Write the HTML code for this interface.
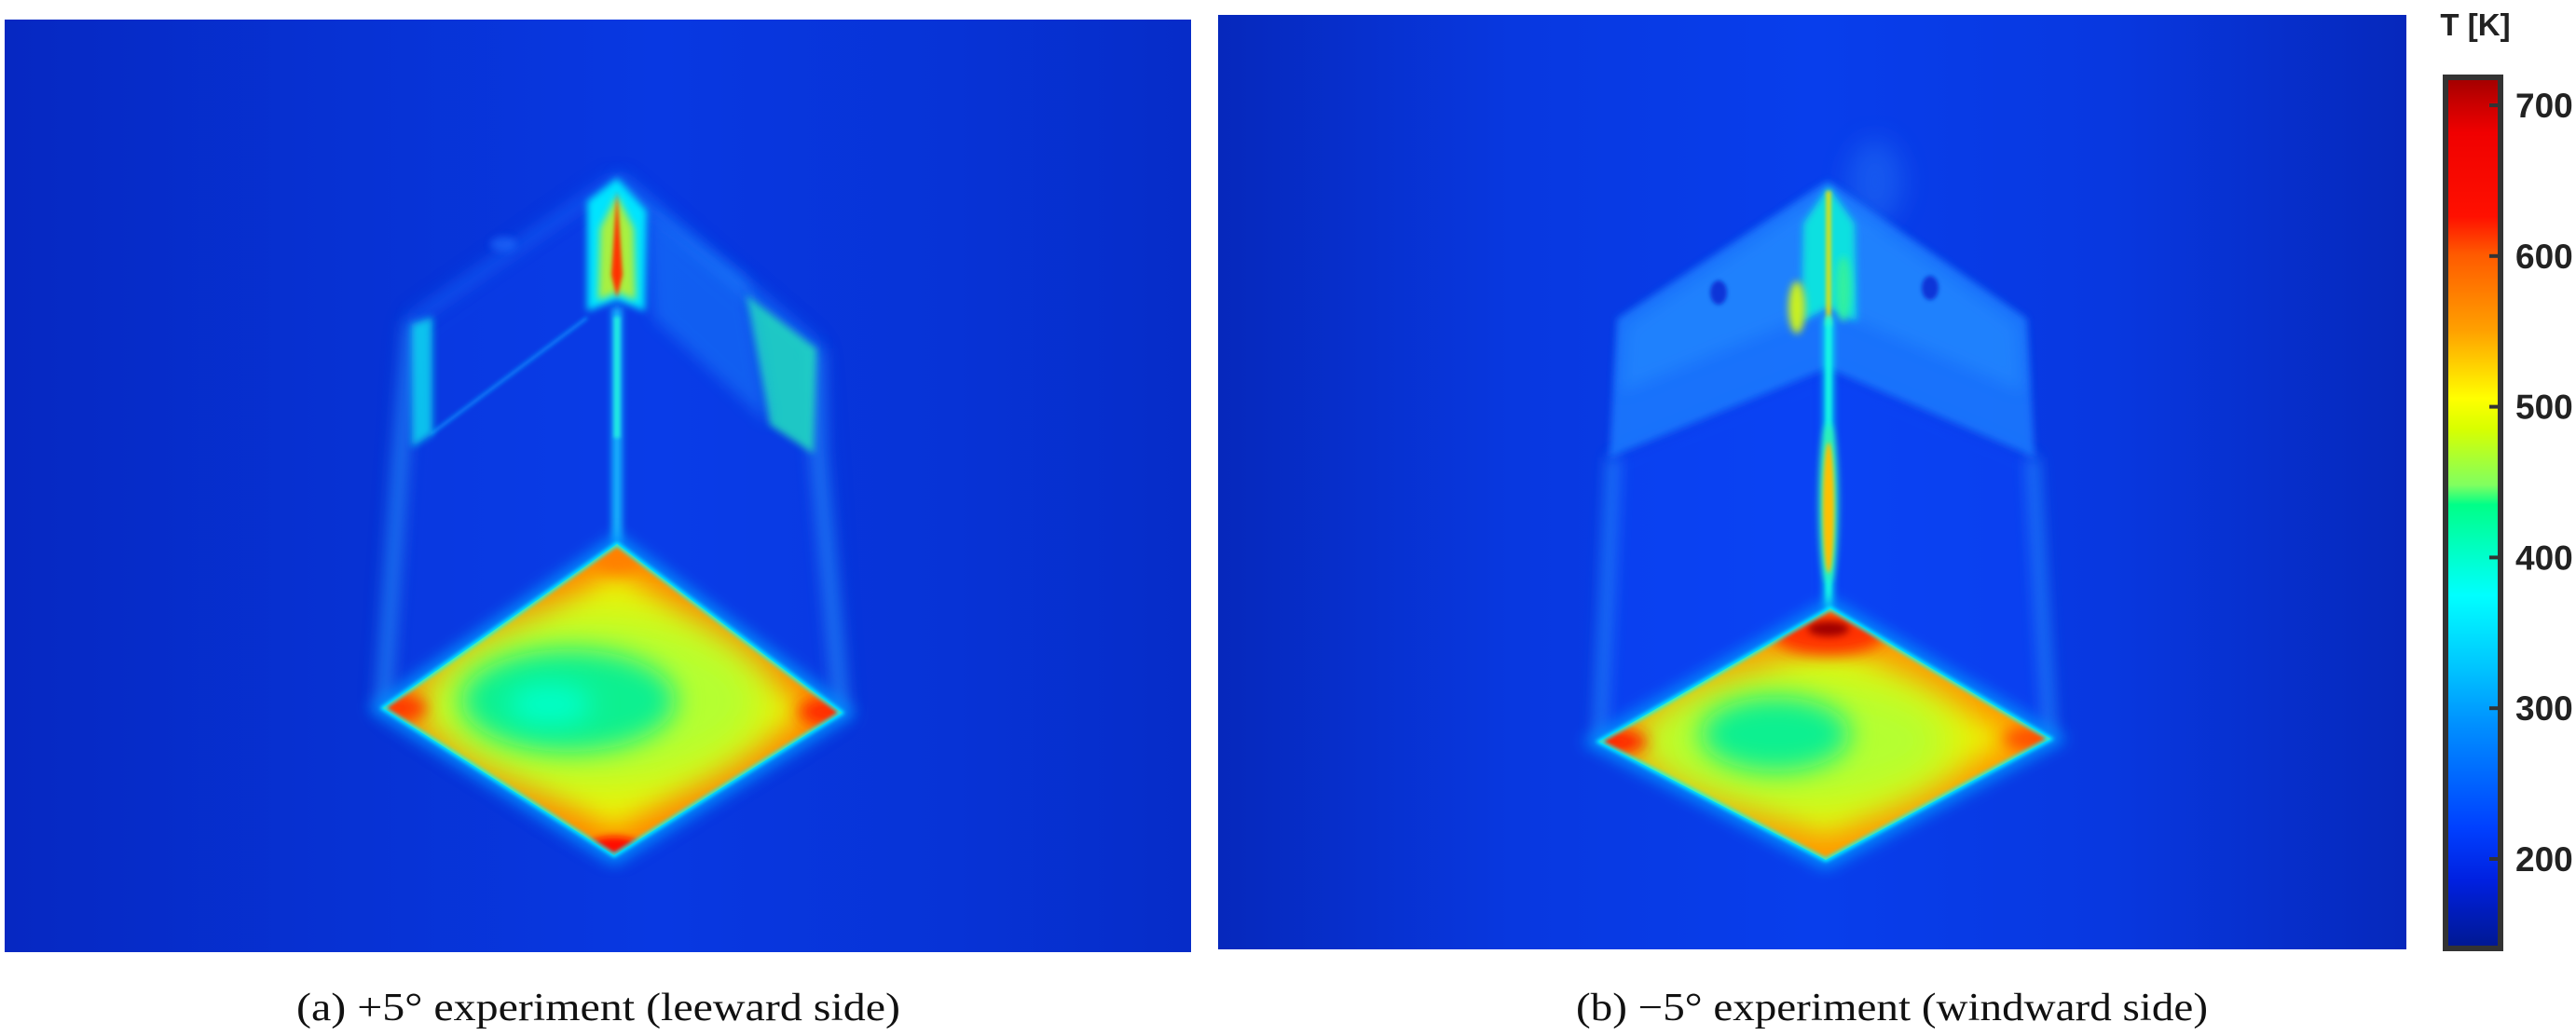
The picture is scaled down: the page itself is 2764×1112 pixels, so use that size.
<!DOCTYPE html>
<html><head><meta charset="utf-8"><title>IR thermography</title>
<style>html,body{margin:0;padding:0;background:#fff}svg{display:block}</style></head>
<body>
<svg id="fig" width="2764" height="1112" viewBox="0 0 2764 1112" xmlns="http://www.w3.org/2000/svg">
<defs>
<filter id="b2" filterUnits="userSpaceOnUse" x="0" y="0" width="2764" height="1112"><feGaussianBlur stdDeviation="2"/></filter>
<filter id="b4" filterUnits="userSpaceOnUse" x="0" y="0" width="2764" height="1112"><feGaussianBlur stdDeviation="4"/></filter>
<filter id="b8" filterUnits="userSpaceOnUse" x="0" y="0" width="2764" height="1112"><feGaussianBlur stdDeviation="8"/></filter>
<filter id="b14" filterUnits="userSpaceOnUse" x="0" y="0" width="2764" height="1112"><feGaussianBlur stdDeviation="14"/></filter>
<filter id="b25" filterUnits="userSpaceOnUse" x="0" y="0" width="2764" height="1112"><feGaussianBlur stdDeviation="25"/></filter>
<linearGradient id="bgL" x1="0" x2="1" y1="0" y2="0">
<stop offset="0" stop-color="#0628c2"/><stop offset="0.3" stop-color="#0732d4"/><stop offset="0.55" stop-color="#0838e2"/><stop offset="0.8" stop-color="#0733d6"/><stop offset="1" stop-color="#062cc8"/></linearGradient>
<linearGradient id="bgR" x1="0" x2="1" y1="0" y2="0">
<stop offset="0" stop-color="#0628bc"/><stop offset="0.25" stop-color="#0838e0"/><stop offset="0.5" stop-color="#083eec"/><stop offset="0.75" stop-color="#0838e0"/><stop offset="1" stop-color="#0628bc"/></linearGradient>
<clipPath id="clipL"><rect x="5" y="21" width="1273" height="1001"/></clipPath>
<clipPath id="clipR"><rect x="1307" y="16" width="1275" height="1003"/></clipPath>
<clipPath id="dL"><polygon points="411,760 662,584 903,765 659,918"/></clipPath>
<clipPath id="dR"><polygon points="1716,796 1964,653 2200,793 1959,923"/></clipPath>
<linearGradient id="cbGrad" x1="0" x2="0" y1="0" y2="1"></linearGradient>
</defs>

<!-- Left panel -->
<g id="panel-a" clip-path="url(#clipL)">
<rect x="5" y="21" width="1273" height="1001" fill="url(#bgL)"/>
<polygon points="440,345 662,191 876,374 903,765 659,918 411,760" fill="#0a44f4" opacity="0.35" filter="url(#b14)"/>
<polyline points="442,345 430,490 411,760" fill="none" stroke="#2a9cff" stroke-width="16" opacity="0.6" filter="url(#b8)"/>
<polyline points="876,374 878,487 903,765" fill="none" stroke="#2a9cff" stroke-width="16" opacity="0.6" filter="url(#b8)"/>
<line x1="662" y1="191" x2="440" y2="345" stroke="#1a70ff" stroke-width="10" opacity="0.6" filter="url(#b8)"/>
<line x1="662" y1="191" x2="876" y2="374" stroke="#1a80ff" stroke-width="12" opacity="0.7" filter="url(#b8)"/>
<ellipse cx="540" cy="262" rx="14" ry="8" fill="#2070ff" opacity="0.6" filter="url(#b4)"/>
<line x1="662" y1="330" x2="662" y2="584" stroke="#18c0ff" stroke-width="10" filter="url(#b4)"/>
<line x1="662" y1="340" x2="662" y2="470" stroke="#20f0e0" stroke-width="6" filter="url(#b2)"/>
<line x1="630" y1="341" x2="462" y2="466" stroke="#1090ff" stroke-width="3" filter="url(#b2)"/>
<polygon points="442,348 464,340 464,466 442,480" fill="#10d8f0" opacity="0.85" filter="url(#b4)"/>
<polygon points="800,316 876,374 873,487 826,456" fill="#20e0c0" opacity="0.85" filter="url(#b4)"/>
<polygon points="694,226 800,300 826,456 700,340" fill="#1a8aff" opacity="0.45" filter="url(#b8)"/>
<polygon points="662,191 630,216 630,334 662,322 692,334 694,226" fill="#00e4ff" filter="url(#b4)"/>
<polygon points="662,210 644,245 642,322 662,314 682,322 680,245" fill="#a8f040" filter="url(#b4)"/>
<polygon points="662,205 656,295 662,320 668,295" fill="#ff3000" filter="url(#b2)"/>
<polygon points="411,760 662,584 903,765 659,918" fill="none" stroke="#0090ff" stroke-width="18" filter="url(#b8)"/>
<g clip-path="url(#dL)">
<rect x="400" y="570" width="520" height="360" fill="#ff8a00"/>
<polygon points="448,760 662,612 866,764 659,890" fill="#f2f000" filter="url(#b14)"/>
<ellipse cx="640" cy="752" rx="185" ry="95" fill="#b4ff30" filter="url(#b25)"/>
<ellipse cx="610" cy="752" rx="115" ry="55" fill="#10f090" filter="url(#b14)"/>
<ellipse cx="590" cy="756" rx="45" ry="22" fill="#00ffc8" filter="url(#b14)"/>
<ellipse cx="659" cy="912" rx="32" ry="14" fill="#ff1000" filter="url(#b4)"/>
<ellipse cx="420" cy="760" rx="38" ry="16" fill="#ff3a00" filter="url(#b8)"/>
<ellipse cx="895" cy="764" rx="38" ry="16" fill="#ff2a00" filter="url(#b8)"/>
<ellipse cx="663" cy="600" rx="28" ry="16" fill="#ff8000" filter="url(#b8)"/>
</g>
<polygon points="411,760 662,584 903,765 659,918" fill="none" stroke="#00ffff" stroke-width="4" filter="url(#b2)"/>
</g>

<!-- Right panel -->
<g id="panel-b" clip-path="url(#clipR)">
<rect x="1307" y="16" width="1275" height="1003" fill="url(#bgR)"/>
<polygon points="1727,491 1961,395 1962,653 1716,796" fill="#0a48ff" opacity="0.45" filter="url(#b8)"/>
<polygon points="2183,491 1961,395 1962,653 2200,793" fill="#0a48ff" opacity="0.45" filter="url(#b8)"/>
<ellipse cx="2012" cy="195" rx="30" ry="45" fill="#2a80f8" opacity="0.4" filter="url(#b14)"/>
<polygon points="1735,342 1961,194 2175,342 2183,491 1961,395 1727,491" fill="#1a7cff" opacity="0.85" filter="url(#b4)"/>
<polygon points="1745,350 1961,205 2165,350 2170,420 1961,330 1740,420" fill="#2690ff" opacity="0.5" filter="url(#b8)"/>
<polyline points="1731,491 1724,640 1716,796" fill="none" stroke="#2a9cff" stroke-width="12" opacity="0.65" filter="url(#b8)"/>
<polyline points="2181,491 2190,640 2200,793" fill="none" stroke="#2a9cff" stroke-width="12" opacity="0.65" filter="url(#b8)"/>
<ellipse cx="1844" cy="314" rx="9" ry="13" fill="#0836d8" filter="url(#b2)"/>
<ellipse cx="2071" cy="309" rx="9" ry="13" fill="#0836d8" filter="url(#b2)"/>
<polygon points="1962,200 1935,240 1933,345 1962,330 1992,345 1990,240" fill="#10e0e0" filter="url(#b4)"/>
<ellipse cx="1928" cy="330" rx="9" ry="28" fill="#c8f020" filter="url(#b4)"/>
<ellipse cx="1978" cy="310" rx="8" ry="35" fill="#30f0a0" filter="url(#b4)"/>
<line x1="1962" y1="205" x2="1962" y2="350" stroke="#f0e000" stroke-width="5" filter="url(#b2)"/>
<line x1="1962" y1="340" x2="1962" y2="655" stroke="#00f0f0" stroke-width="10" filter="url(#b4)"/>
<line x1="1962" y1="340" x2="1962" y2="655" stroke="#20ffe0" stroke-width="4" filter="url(#b2)"/>
<ellipse cx="1962" cy="540" rx="10" ry="85" fill="#30f0b0" filter="url(#b4)"/>
<ellipse cx="1962" cy="545" rx="6" ry="70" fill="#ffc000" filter="url(#b2)"/>
<polygon points="1716,796 1964,653 2200,793 1959,923" fill="none" stroke="#0090ff" stroke-width="18" filter="url(#b8)"/>
<g clip-path="url(#dR)">
<rect x="1700" y="640" width="520" height="300" fill="#ff9a00"/>
<polygon points="1755,796 1964,690 2162,793 1959,895" fill="#f0f000" filter="url(#b14)"/>
<ellipse cx="1930" cy="795" rx="170" ry="75" fill="#b4ff30" filter="url(#b25)"/>
<ellipse cx="1905" cy="788" rx="80" ry="40" fill="#10f090" filter="url(#b14)"/>
<ellipse cx="1962" cy="680" rx="60" ry="24" fill="#ff3000" filter="url(#b8)"/>
<ellipse cx="1962" cy="675" rx="22" ry="8" fill="#a00000" filter="url(#b4)"/>
<ellipse cx="1727" cy="796" rx="40" ry="14" fill="#ff2000" filter="url(#b8)"/>
<ellipse cx="2190" cy="793" rx="40" ry="14" fill="#ff5000" filter="url(#b8)"/>
</g>
<polygon points="1716,796 1964,653 2200,793 1959,923" fill="none" stroke="#00ffff" stroke-width="4" filter="url(#b2)"/>
</g>

<!-- Colorbar -->
<g id="colorbar">
<text x="2656" y="38" text-anchor="middle" font-family="Liberation Sans, sans-serif" font-weight="bold" font-size="33" fill="#222">T [K]</text>
<rect id="cbRect" x="2624" y="83" width="59" height="935" fill="url(#cbGrad)" stroke="#333" stroke-width="6"/>
<g id="cbTicks"></g>
</g>

<text x="642" y="1095" text-anchor="middle" font-family="Liberation Serif, serif" font-size="42" fill="#111" textLength="648" lengthAdjust="spacingAndGlyphs">(a) +5° experiment (leeward side)</text>
<text x="2030" y="1095" text-anchor="middle" font-family="Liberation Serif, serif" font-size="42" fill="#111" textLength="678" lengthAdjust="spacingAndGlyphs">(b) −5° experiment (windward side)</text>
</svg>
<script>
const stopTemps = [717, 700, 680, 625, 600, 550, 505, 485, 448, 435, 375, 330, 290, 222, 187, 142];
const stopColors = ["#a00000","#c80000","#f00000","#ff1000","#ff5a00","#ffa000","#ffff00","#d8ff00","#80ff60","#00ff88","#00ffff","#00c8ff","#0090ff","#0040ff","#0020e0","#001890"];
const tickValues = [200, 300, 400, 500, 600, 700];
const tickLabels = ["200", "300", "400", "500", "600", "700"];
const NS = "http://www.w3.org/2000/svg";
const tMax = 716.7, tMin = 142.5, yTop = 86, yBot = 1015;
function yOf(T){ return yTop + (tMax - T) / (tMax - tMin) * (yBot - yTop); }
const grad = document.getElementById('cbGrad');
for (let i = 0; i < stopTemps.length; i++) {
  const s = document.createElementNS(NS, 'stop');
  s.setAttribute('offset', ((yOf(stopTemps[i]) - yTop) / (yBot - yTop)).toFixed(4));
  s.setAttribute('stop-color', stopColors[i]);
  grad.appendChild(s);
}
const tg = document.getElementById('cbTicks');
for (let i = 0; i < tickValues.length; i++) {
  const y = yOf(tickValues[i]);
  const ln = document.createElementNS(NS, 'line');
  ln.setAttribute('x1', 2671); ln.setAttribute('x2', 2681);
  ln.setAttribute('y1', y); ln.setAttribute('y2', y);
  ln.setAttribute('stroke', '#333'); ln.setAttribute('stroke-width', 4);
  
  
  tg.appendChild(ln);
  const t = document.createElementNS(NS, 'text');
  t.setAttribute('x', 2699); t.setAttribute('y', y + 13);
  t.setAttribute('font-family', 'Liberation Sans, sans-serif');
  t.setAttribute('font-weight', 'bold'); t.setAttribute('font-size', 37);
  t.setAttribute('fill', '#222');
  t.textContent = tickLabels[i];
  
  
  tg.appendChild(t);
}
</script>
</body></html>
